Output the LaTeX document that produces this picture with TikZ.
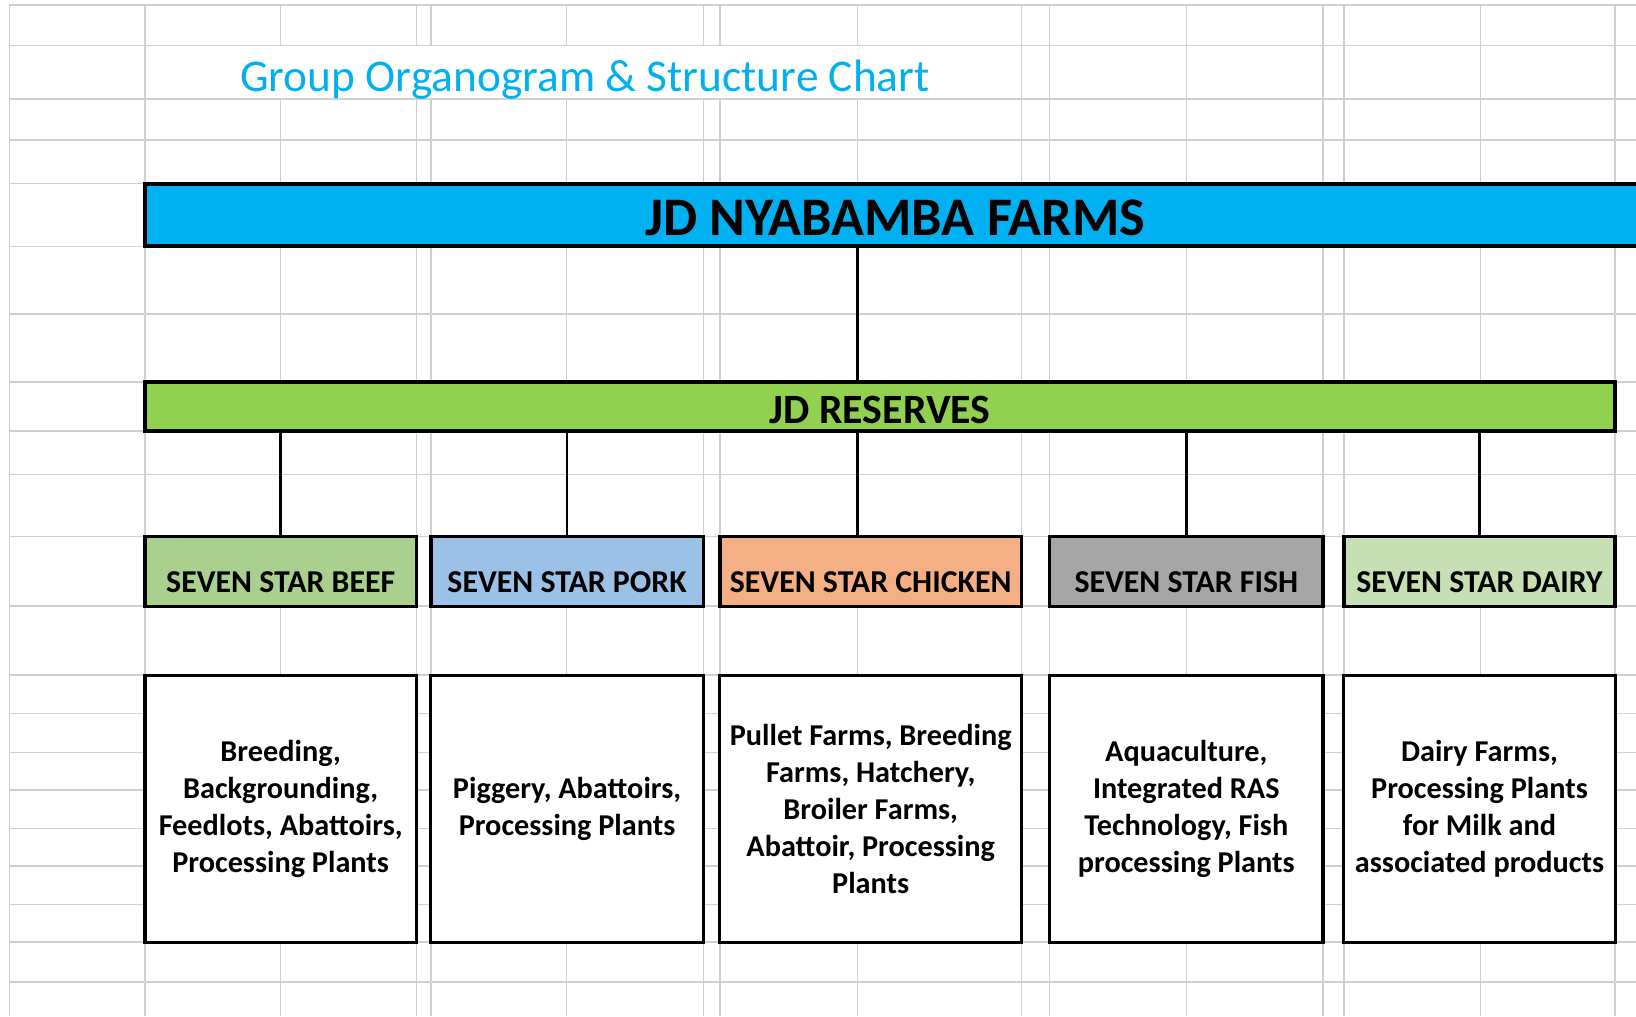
\documentclass[tikz,border=0pt]{standalone}
\usepackage{fontspec}
\setmainfont{Carlito}
\usetikzlibrary{positioning}

\definecolor{farmblue}{HTML}{00B0F0}
\definecolor{reservegreen}{HTML}{92D050}
\definecolor{beefgreen}{HTML}{A9D08E}
\definecolor{porkblue}{HTML}{9BC2E6}
\definecolor{chickenorange}{HTML}{F4B084}
\definecolor{fishgrey}{HTML}{A6A6A6}
\definecolor{dairygreen}{HTML}{C6E0B4}
\definecolor{gridgrey}{HTML}{D0D0D0}

\begin{document}
\begin{tikzpicture}[x=1pt,y=-1pt,
  gridline/.style={gridgrey,line width=1.4pt},
  heading/.style={inner sep=0pt,text=farmblue,font=\fontsize{43.5}{50}\selectfont},
  groupbar/.style={draw=black,line width=3.6pt,fill=#1,inner sep=0pt,text depth=0pt},
  unitbox/.style={draw=black,line width=3.2pt,fill=#1,inner sep=0pt,minimum height=67,
    text height=41pt,text depth=0pt,font=\bfseries\fontsize{30.5}{36}\selectfont},
  dutybox/.style={draw=black,line width=3pt,fill=white,inner sep=0pt,minimum height=256,
    align=center,font=\bfseries\fontsize{29}{35.5}\selectfont},
  link/.style={black,line width=2.4pt}]
\useasboundingbox (0,0) rectangle (1568,974);
\clip (0,0) rectangle (1568,974);
\fill[white] (0,0) rectangle (1568,974);

% sheet grid
\foreach \y in {5,43.5,95,134,176,236,301,366,413,455,514,581,647,684,721,757,794,830,867,903,941}
  \draw[gridline] (9,\y) -- (1568,\y);
\foreach \x in {9,139,979,1006,1137,1268,1288,1419,1548}
  \draw[gridline] (\x,5) -- (\x,974);
\foreach \x in {269,399,413,543,674,690,822}
  \draw[gridline] (\x,5) -- (\x,43.5) (\x,95) -- (\x,974);

\node[heading,anchor=base west] (title) at (230,88) {Group Organogram \& Structure Chart};

\node[groupbar=farmblue,minimum width=1438,minimum height=60,text height=40pt,
  font=\bfseries\fontsize{52}{60}\selectfont] (farms) at (858,206) {JD NYABAMBA FARMS};
\node[groupbar=reservegreen,minimum width=1409,minimum height=47,text height=33pt,
  font=\bfseries\fontsize{40}{46}\selectfont] (reserves) at (843.5,389.5) {JD RESERVES};

\node[unitbox=beefgreen,minimum width=260] (beef) at (269,547.5) {SEVEN STAR BEEF};
\node[unitbox=porkblue,minimum width=261] (pork) at (543.5,547.5) {SEVEN STAR PORK};
\node[unitbox=chickenorange,minimum width=289] (chicken) at (834.5,547.5) {SEVEN STAR CHICKEN};
\node[unitbox=fishgrey,minimum width=262] (fish) at (1137,547.5) {SEVEN STAR FISH};
\node[unitbox=dairygreen,minimum width=260] (dairy) at (1418,547.5) {SEVEN STAR DAIRY};

\node[dutybox,minimum width=260] (beefduty) at (269,775)
  {Breeding,\\Backgrounding,\\Feedlots, Abattoirs,\\Processing Plants};
\node[dutybox,minimum width=261] (porkduty) at (543.5,775)
  {Piggery, Abattoirs,\\Processing Plants};
\node[dutybox,minimum width=289] (chickenduty) at (834.5,775)
  {Pullet Farms, Breeding\\Farms, Hatchery,\\Broiler Farms,\\Abattoir, Processing\\Plants};
\node[dutybox,minimum width=262] (fishduty) at (1137,775)
  {Aquaculture,\\Integrated RAS\\Technology, Fish\\processing Plants};
\node[dutybox,minimum width=260] (dairyduty) at (1418,775)
  {Dairy Farms,\\Processing Plants\\for Milk and\\associated products};

\coordinate (trunk) at (822,0);
\draw[link] (farms.south -| trunk) -- (reserves.north -| trunk);
\draw[link] (reserves.south -| beef) -- (beef.north);
\draw[link] (reserves.south -| pork) -- (pork.north);
\draw[link] (reserves.south -| trunk) -- (chicken.north -| trunk);
\draw[link] (reserves.south -| fish) -- (fish.north);
\draw[link] (reserves.south -| dairy) -- (dairy.north);
\end{tikzpicture}
\end{document}
